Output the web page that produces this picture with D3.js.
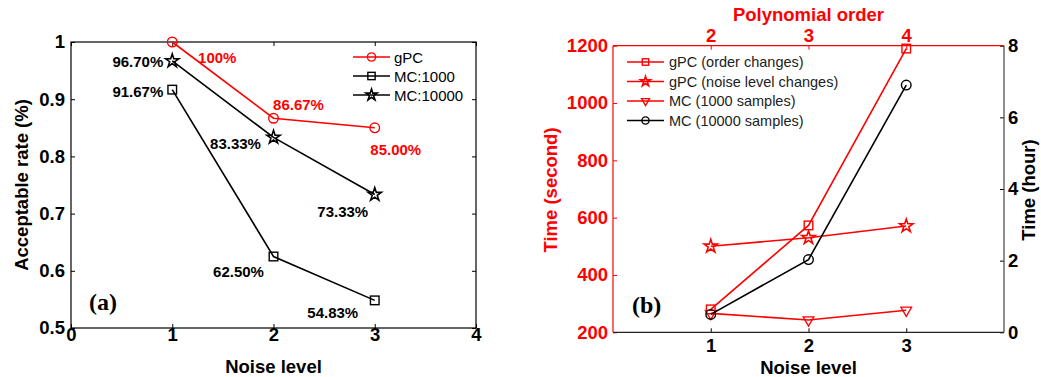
<!DOCTYPE html>
<html>
<head>
<meta charset="utf-8">
<script src="https://cdn.jsdelivr.net/npm/d3@7"></script>
<style>
  body { margin: 0; background: #fff; }
  svg { font-family: "Liberation Sans", Arial, sans-serif; }
</style>
</head>
<body>
<svg id="chart" width="1041" height="377"></svg>
<script>
// ---- data: panel (a) ----
const noiseLevels = [1, 2, 3];
const gpcRate = [1.0, 0.8667, 0.85];
const mc1000Rate = [0.9167, 0.625, 0.5483];
const mc10000Rate = [0.967, 0.8333, 0.7333];
const gpcRateLabels = ['100%', '86.67%', '85.00%'];
const mc1000Labels = ['91.67%', '62.50%', '54.83%'];
const mc10000Labels = ['96.70%', '83.33%', '73.33%'];
const rateTicks = [0.5, 0.6, 0.7, 0.8, 0.9, 1];
const noiseTicksA = [0, 1, 2, 3, 4];

// ---- data: panel (b) ----
const polyOrders = [2, 3, 4];
const gpcOrderTime = [280, 573, 1190];
const gpcNoiseTime = [500, 530, 571];
const mc1000Time = [266, 243, 277];
const mc10000Hours = [0.5, 2.03, 6.9];
const secondTicks = [200, 400, 600, 800, 1000, 1200];
const hourTicks = [0, 2, 4, 6, 8];

const RED = '#ff0000';
const TICK = 18.5, TITLE = 18.5, LABEL = 15;
const svg = d3.select('#chart');

function boldText(g, x, y, txt, size, color, anchor) {
  return g.append('text').attr('x', x).attr('y', y)
    .attr('font-size', size).attr('font-weight', 'bold')
    .attr('fill', color).attr('text-anchor', anchor || 'middle').text(txt);
}

function drawMarker(g, type, x, y, color, k) {
  k = k || 1;
  if (type === 'circle') {
    g.append('circle').attr('cx', x).attr('cy', y).attr('r', 4.8 * k)
      .attr('fill', 'none').attr('stroke', color).attr('stroke-width', 1.4);
  } else if (type === 'square') {
    const h = 4.3 * k;
    g.append('rect').attr('x', x - h).attr('y', y - h).attr('width', 2 * h).attr('height', 2 * h)
      .attr('fill', 'none').attr('stroke', color).attr('stroke-width', 1.4);
  } else if (type === 'star') {
    g.append('path').attr('d', d3.symbol(d3.symbolStar, 55 * k * k)())
      .attr('transform', `translate(${x},${y})`)
      .attr('fill', 'none').attr('stroke', color).attr('stroke-width', 1.6);
  } else if (type === 'tri') {
    g.append('path').attr('d', d3.symbol(d3.symbolTriangle, 50 * k * k)())
      .attr('transform', `translate(${x},${y}) rotate(180)`)
      .attr('fill', 'none').attr('stroke', color).attr('stroke-width', 1.3);
  }
}

function drawSeries(g, xs, ys, x, y, color, marker) {
  const line = d3.line().x((d, i) => x(xs[i])).y(d => y(d));
  g.append('path').datum(ys).attr('d', line)
    .attr('fill', 'none').attr('stroke', color).attr('stroke-width', 1.6);
  ys.forEach((v, i) => drawMarker(g, marker, x(xs[i]), y(v), color));
}

function styleAxis(sel, color) {
  sel.select('.domain').remove();
  sel.selectAll('line').attr('stroke', color);
  sel.selectAll('text').attr('fill', color).attr('font-size', TICK)
    .attr('font-weight', 'bold').attr('font-family', '"Liberation Sans", Arial, sans-serif');
}

// ================= panel (a) =================
(function () {
  const L = 71, R = 476, T = 42, B = 328;
  const x = d3.scaleLinear().domain([0, 4]).range([L, R]);
  const y = d3.scaleLinear().domain([0.5, 1]).range([B, T]);
  const g = svg.append('g');

  g.append('g').attr('transform', `translate(0,${B})`)
    .call(d3.axisBottom(x).tickValues(noiseTicksA).tickFormat(d3.format('d')).tickSize(-4).tickPadding(0))
    .call(s => styleAxis(s, '#000'));
  g.append('g').attr('transform', `translate(0,${T})`)
    .call(d3.axisTop(x).tickValues(noiseTicksA).tickSize(-4).tickFormat(''))
    .call(s => styleAxis(s, '#000'));
  g.append('g').attr('transform', `translate(${L},0)`)
    .call(d3.axisLeft(y).tickValues(rateTicks).tickFormat(d => d === 1 ? '1' : d3.format('.1f')(d)).tickSize(-4).tickPadding(6))
    .call(s => styleAxis(s, '#000'));
  g.append('g').attr('transform', `translate(${R},0)`)
    .call(d3.axisRight(y).tickValues(rateTicks).tickSize(-4).tickFormat(''))
    .call(s => styleAxis(s, '#000'));
  g.append('rect').attr('x', L).attr('y', T).attr('width', R - L).attr('height', B - T)
    .attr('fill', 'none').attr('stroke', '#000').attr('stroke-width', 1.2);

  drawSeries(g, noiseLevels, mc1000Rate, x, y, '#000', 'square');
  drawSeries(g, noiseLevels, mc10000Rate, x, y, '#000', 'star');
  drawSeries(g, noiseLevels, gpcRate, x, y, RED, 'circle');

  // value labels: pixel offsets from each point [dx, dy, anchor]
  const gpcOff = [[45, 21, 'middle'], [25, -8, 'middle'], [21, 27, 'middle']];
  const mc1Off = [[-9, 7, 'end'], [-35, 20, 'middle'], [-42, 18, 'middle']];
  const mc10Off = [[-9, 6, 'end'], [-38, 12, 'middle'], [-32, 22, 'middle']];
  gpcRate.forEach((v, i) => boldText(g, x(noiseLevels[i]) + gpcOff[i][0], y(v) + gpcOff[i][1], gpcRateLabels[i], LABEL, RED, gpcOff[i][2]));
  mc1000Rate.forEach((v, i) => boldText(g, x(noiseLevels[i]) + mc1Off[i][0], y(v) + mc1Off[i][1], mc1000Labels[i], LABEL, '#000', mc1Off[i][2]));
  mc10000Rate.forEach((v, i) => boldText(g, x(noiseLevels[i]) + mc10Off[i][0], y(v) + mc10Off[i][1], mc10000Labels[i], LABEL, '#000', mc10Off[i][2]));

  // legend
  const leg = [['gPC', RED, 'circle'], ['MC:1000', '#000', 'square'], ['MC:10000', '#000', 'star']];
  leg.forEach((d, i) => {
    const ly = 57 + i * 19;
    g.append('line').attr('x1', 353).attr('x2', 390).attr('y1', ly).attr('y2', ly)
      .attr('stroke', d[1]).attr('stroke-width', 1.6);
    drawMarker(g, d[2], 371.5, ly, d[1], 0.85);
    g.append('text').attr('x', 394).attr('y', ly + 5.5).attr('font-size', 15).text(d[0]);
  });

  boldText(g, (L + R) / 2, 373, 'Noise level', TITLE, '#000');
  boldText(g, 0, 0, 'Acceptable rate (%)', TITLE, '#000').attr('transform', 'translate(28,185) rotate(-90)');
  g.append('text').attr('x', 89).attr('y', 310).attr('font-family', '"Liberation Serif", "Times New Roman", serif')
    .attr('font-size', 24).attr('font-weight', 'bold').text('(a)');
})();

// ================= panel (b) =================
(function () {
  const L = 613, R = 1004, T = 45.7, B = 332.3;
  const x = d3.scaleLinear().domain([0, 4]).range([L, R]);
  const xTop = d3.scaleLinear().domain([1, 5]).range([L, R]);
  const yS = d3.scaleLinear().domain([200, 1200]).range([B, T]);
  const yH = d3.scaleLinear().domain([0, 8]).range([B, T]);
  const g = svg.append('g');

  g.append('g').attr('transform', `translate(0,${B})`)
    .call(d3.axisBottom(x).tickValues(noiseLevels).tickFormat(d3.format('d')).tickSize(-4).tickPadding(7))
    .call(s => styleAxis(s, '#000'));
  g.append('g').attr('transform', `translate(0,${T})`)
    .call(d3.axisTop(xTop).tickValues(polyOrders).tickFormat(d3.format('d')).tickSize(-4).tickPadding(4))
    .call(s => styleAxis(s, RED));
  g.append('g').attr('transform', `translate(${L},0)`)
    .call(d3.axisLeft(yS).tickValues(secondTicks).tickFormat(d3.format('d')).tickSize(-4).tickPadding(5))
    .call(s => styleAxis(s, RED));
  g.append('g').attr('transform', `translate(${R},0)`)
    .call(d3.axisRight(yH).tickValues(hourTicks).tickFormat(d3.format('d')).tickSize(-4).tickPadding(4))
    .call(s => styleAxis(s, '#000'));
  g.append('line').attr('x1', L).attr('x2', R).attr('y1', B).attr('y2', B).attr('stroke', '#222').attr('stroke-width', 1.2);
  g.append('line').attr('x1', R).attr('x2', R).attr('y1', T).attr('y2', B).attr('stroke', '#444').attr('stroke-width', 1.2);
  g.append('line').attr('x1', L).attr('x2', R).attr('y1', T).attr('y2', T).attr('stroke', RED).attr('stroke-width', 1.2);
  g.append('line').attr('x1', L).attr('x2', L).attr('y1', T).attr('y2', B).attr('stroke', RED).attr('stroke-width', 1.2);

  drawSeries(g, polyOrders, gpcOrderTime, xTop, yS, RED, 'square');
  drawSeries(g, noiseLevels, gpcNoiseTime, x, yS, RED, 'star');
  drawSeries(g, noiseLevels, mc1000Time, x, yS, RED, 'tri');
  drawSeries(g, noiseLevels, mc10000Hours, x, yH, '#000', 'circle');

  // legend (last entry overlaps the third, as in the original)
  const leg = [['gPC (order changes)', RED, 'square'], ['gPC (noise level changes)', RED, 'star'],
               ['MC (1000 samples)', RED, 'tri'], ['MC (10000 samples)', '#000', 'circle']];
  leg.forEach((d, i) => {
    const ly = 62 + i * 19.5;
    const eg = g.append('g');
    if (i === 3) eg.append('rect').attr('x', 625).attr('y', ly - 9).attr('width', 145).attr('height', 18).attr('fill', '#fff');
    eg.append('line').attr('x1', 627).attr('x2', 664).attr('y1', ly).attr('y2', ly)
      .attr('stroke', d[1]).attr('stroke-width', 1.6);
    drawMarker(eg, d[2], 645.5, ly, d[1], 0.75);
    eg.append('text').attr('x', 669).attr('y', ly + 5).attr('font-size', 14.5).attr('fill', '#222').text(d[0]);
  });

  boldText(g, (L + R) / 2, 374, 'Noise level', TITLE, '#000');
  boldText(g, (L + R) / 2, 21, 'Polynomial order', TITLE, RED);
  boldText(g, 0, 0, 'Time (second)', TITLE, RED).attr('transform', 'translate(557,190) rotate(-90)');
  boldText(g, 0, 0, 'Time (hour)', TITLE, '#000').attr('transform', 'translate(1035,190) rotate(-90)');
  g.append('text').attr('x', 632).attr('y', 313).attr('font-family', '"Liberation Serif", "Times New Roman", serif')
    .attr('font-size', 24).attr('font-weight', 'bold').text('(b)');
})();
</script>
</body>
</html>
